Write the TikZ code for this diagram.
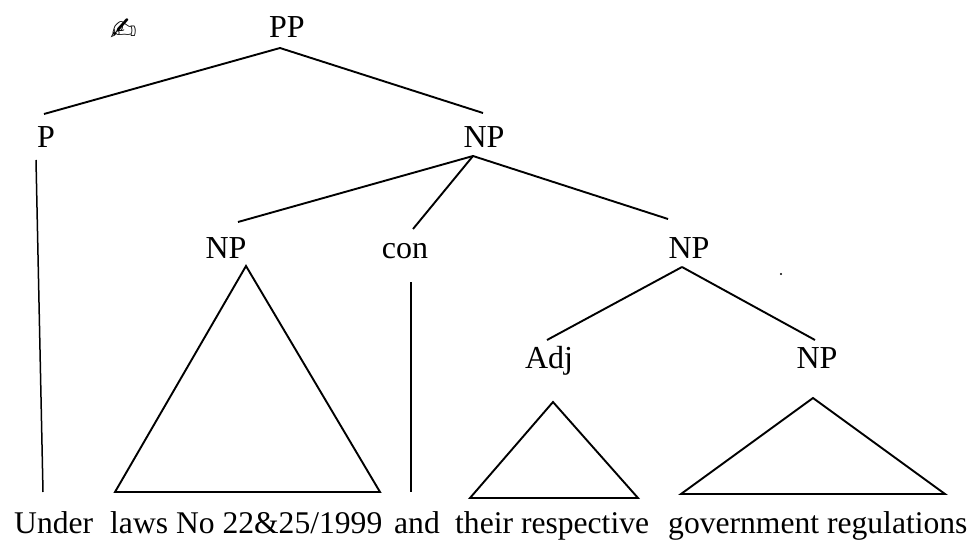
\documentclass[tikz,border=0pt]{standalone}
\usepackage{fontspec}
\setmainfont{Liberation Serif}
\newfontfamily\penfont{DejaVu Sans}
\tikzset{
  cat/.style={inner sep=0pt, anchor=base, font=\fontsize{32}{32}\selectfont},
  leaf/.style={inner sep=0pt, anchor=base west, font=\fontsize{31.6}{32}\selectfont},
  branch/.style={line width=1.9pt}
}
\begin{document}
\begin{tikzpicture}[x=1pt, y=-1pt]
\useasboundingbox (0,0) rectangle (974,540);
% categories
\node[cat] (pp) at (287,38) {PP};
\node[cat] (pen) at (124,41) {\penfont\fontsize{32}{32}\selectfont ✍};
\node[cat] (p) at (46,148) {P};
\node[cat] (np) at (484,148) {NP};
\node[cat] (npa) at (226,258) {NP};
\node[cat] (conj) at (405,258) {con};
\node[cat] (npb) at (689,258) {NP};
\node[cat] (adj) at (549,368) {Adj};
\node[cat] (npc) at (817,368) {NP};
% words
\node[leaf] (under) at (14,533) {Under};
\node[leaf] (laws) at (110,533) {laws No 22\&25/1999};
\node[leaf] (and) at (394,533) {and};
\node[leaf] (their) at (455,533) {their respective};
\node[leaf] (govt) at (668,533) {government regulations};
% branches
\draw [branch] ([shift={(-7,10)}]pp.base) -- ([shift={(-2,-34)}]p.base);
\draw [branch] ([shift={(-7,10)}]pp.base) -- ([shift={(-1,-35)}]np.base);
\draw [branch] ([shift={(-11,8)}]np.base) -- ([shift={(12,-36)}]npa.base);
\draw [branch] ([shift={(-11,8)}]np.base) -- ([shift={(8,-29)}]conj.base);
\draw [branch] ([shift={(-11,8)}]np.base) -- ([shift={(-21,-39)}]npb.base);
\draw [branch] ([shift={(-7,9)}]npb.base) -- ([shift={(-2,-28)}]adj.base);
\draw [branch] ([shift={(-7,9)}]npb.base) -- ([shift={(-2,-28)}]npc.base);
\draw [line width=1.5pt] ([shift={(-10,12)}]p.base) -- ([shift={(29,-41)}]under.base west);
\draw [line width=1.5pt] ([shift={(6,24)}]conj.base) -- ([shift={(17,-41)}]and.base west);
% triangles
\draw [branch, line join=miter] ([shift={(20,8)}]npa.base) -- ([shift={(5,-41)}]laws.base west) -- ([shift={(270,-41)}]laws.base west) -- cycle;
\draw [branch, line join=miter] ([shift={(4,34)}]adj.base) -- ([shift={(15,-35)}]their.base west) -- ([shift={(183,-35)}]their.base west) -- cycle;
\draw [branch, line join=miter] ([shift={(-4,30)}]npc.base) -- ([shift={(13,-39)}]govt.base west) -- ([shift={(277,-39)}]govt.base west) -- cycle;
\fill (781,274) circle (1.2pt);
\end{tikzpicture}
\end{document}
